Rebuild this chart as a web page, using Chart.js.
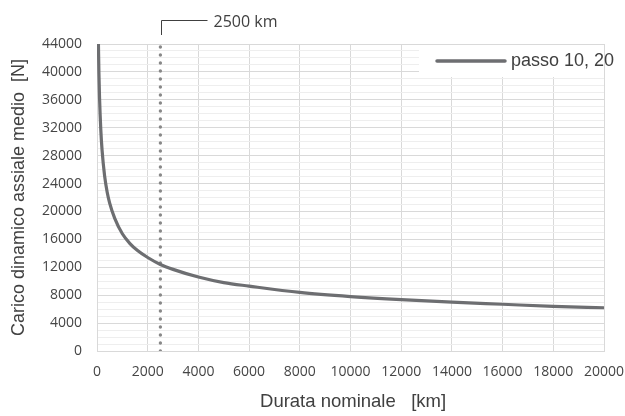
<!DOCTYPE html>
<html>
<head>
<meta charset="utf-8">
<script src="https://cdn.jsdelivr.net/npm/chart.js@4"></script>
<style>
  html, body { margin: 0; padding: 0; background: #fff; }
  #wrap { width: 625px; height: 416px; }
</style>
</head>
<body>
<div id="wrap"><canvas id="chart"></canvas></div>
<script>
// Values
const durataKm = [56, 75, 100, 150, 200, 300, 400, 500, 700, 1000, 1300, 1600, 2000, 2500, 3000, 4000, 5000, 6000, 8000, 10000, 12000, 14000, 16000, 18000, 20000];
const caricoN = [44000, 39900, 36300, 31700, 28800, 25100, 22800, 21200, 19000, 16800, 15400, 14400, 13400, 12400, 11700, 10600, 9800, 9300, 8400, 7800, 7350, 7000, 6700, 6400, 6200];
const seriesLabel = 'passo 10, 20';
const markerKm = 2500;
const markerRange = [0, 44000];
const xTicks = { min: 0, max: 20000, step: 2000 };
const yTicks = { min: 0, max: 44000, step: 1000, labelStep: 4000 };

const curveColor = '#6d6e71';
const gridMajor = '#d9d9d9';
const gridMinor = '#eeeeee';
const textColor = '#404040';
const tickColor = '#454545';

// Legend box inside the plot + "2500 km" bracket label
const overlays = {
  id: 'overlays',
  afterDraw(chart) {
    const { ctx, chartArea, scales } = chart;
    ctx.save();

    // legend
    const right = chartArea.right;
    const top = chartArea.top;
    ctx.fillStyle = '#ffffff';
    ctx.fillRect(right - 185, top + 1, 185, 32);
    ctx.strokeStyle = curveColor;
    ctx.lineWidth = 3.5;
    ctx.lineCap = 'round';
    ctx.beginPath();
    ctx.moveTo(right - 167, top + 17);
    ctx.lineTo(right - 99, top + 17);
    ctx.stroke();
    ctx.fillStyle = textColor;
    ctx.font = '18px "Liberation Sans", Arial, sans-serif';
    ctx.textBaseline = 'middle';
    ctx.textAlign = 'left';
    ctx.fillText(seriesLabel, right - 93, top + 17);

    // bracket label
    const px = Math.round(scales.x.getPixelForValue(markerKm)) + 1.5;
    ctx.strokeStyle = '#404040';
    ctx.lineWidth = 1;
    ctx.lineCap = 'butt';
    ctx.beginPath();
    ctx.moveTo(px, top - 9);
    ctx.lineTo(px, top - 23.5);
    ctx.lineTo(px + 46, top - 23.5);
    ctx.stroke();
    ctx.font = '16px "Open Sans", sans-serif';
    ctx.fillText(markerKm + ' km', px + 52, top - 22);
    ctx.restore();
  }
};

new Chart(document.getElementById('chart'), {
  type: 'line',
  data: {
    datasets: [
      {
        label: seriesLabel,
        data: durataKm.map((x, i) => ({ x: x, y: caricoN[i] })),
        borderColor: curveColor,
        borderWidth: 3.2,
        pointRadius: 0,
        cubicInterpolationMode: 'monotone',
        order: 1
      },
      {
        label: 'marker',
        data: markerRange.map(y => ({ x: markerKm, y: y })),
        borderColor: '#888888',
        borderWidth: 3.4,
        borderDash: [0.001, 8],
        borderCapStyle: 'round',
        pointRadius: 0,
        order: 2
      }
    ]
  },
  options: {
    responsive: true,
    maintainAspectRatio: false,
    animation: false,
    layout: { padding: { top: 44, right: 21, bottom: 0, left: 0 } },
    plugins: {
      legend: { display: false },
      tooltip: { enabled: false }
    },
    scales: {
      x: {
        type: 'linear',
        min: xTicks.min,
        max: xTicks.max,
        afterFit(scale) {
          scale.height = 65;
          scale.paddingLeft = 0;
          scale.paddingRight = 0;
        },
        grid: { color: gridMajor, drawTicks: false },
        border: { color: gridMajor },
        ticks: {
          stepSize: xTicks.step,
          padding: 13,
          color: tickColor,
          font: { family: 'Open Sans', size: 14 },
          callback: v => String(v)
        },
        title: {
          display: true,
          text: ' Durata nominale   [km]',
          color: textColor,
          font: { family: 'Liberation Sans', size: 18.5 },
          padding: { top: 0, bottom: 3 }
        }
      },
      y: {
        type: 'linear',
        min: yTicks.min,
        max: yTicks.max,
        afterFit(scale) { scale.width = 97; },
        grid: {
          drawTicks: false,
          color: c => (c.tick && c.tick.value % yTicks.labelStep === 0) ? gridMajor : gridMinor
        },
        border: { color: gridMajor },
        ticks: {
          stepSize: yTicks.step,
          autoSkip: false,
          padding: 15,
          color: tickColor,
          font: { family: 'Open Sans', size: 14 },
          callback: v => (v % yTicks.labelStep === 0 ? String(v) : '')
        },
        title: {
          display: true,
          text: 'Carico dinamico assiale medio  [N]',
          color: textColor,
          font: { family: 'Liberation Sans', size: 18 },
          padding: { top: 8, bottom: 0 }
        }
      }
    }
  },
  plugins: [overlays]
});
</script>
</body>
</html>
